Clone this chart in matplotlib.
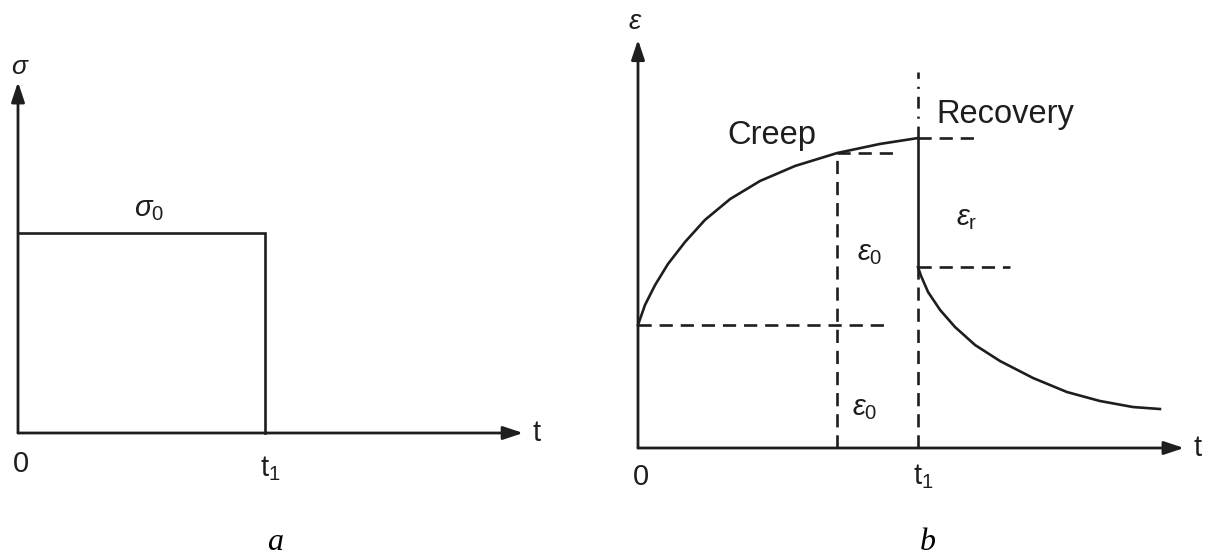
import numpy as np
import matplotlib; matplotlib.use('agg')
import matplotlib.pyplot as plt

plt.rcParams['font.family'] = ['Liberation Sans', 'DejaVu Sans']
plt.rcParams['mathtext.fontset'] = 'custom'
plt.rcParams['mathtext.rm'] = 'Liberation Sans'
plt.rcParams['mathtext.it'] = 'Liberation Sans:italic'

# (a) stress history: constant stress sigma0 applied from 0 to t1
t1 = 1.0
sigma0 = 1.0
t_step = [0.0, t1, t1]
sigma_step = [sigma0, sigma0, 0.0]

# (b) strain response, time in units of t1, strain in units of eps0
eps0 = 1.0
t_creep = [0.0, 0.025, 0.061, 0.107, 0.168, 0.239, 0.329, 0.436, 0.561, 0.711, 0.864, 1.0]
eps_creep = [1.00, 1.163, 1.325, 1.496, 1.675, 1.854, 2.024, 2.171, 2.293, 2.398, 2.472, 2.52]
t_recov = [1.0, 1.011, 1.036, 1.079, 1.132, 1.204, 1.293, 1.411, 1.532, 1.650, 1.768, 1.864]
eps_recov = [1.47, 1.398, 1.268, 1.122, 0.984, 0.837, 0.707, 0.569, 0.455, 0.382, 0.333, 0.317]
t_mark = 0.711          # time of the dashed marker inside the creep region
eps_mark = 2.40

ink = '#1e1e1e'
lw_axis = 2.0
lw_curve = 1.9
dash = (5.0, 3.0)
fs = 21

W, H = 1209, 557
fig = plt.figure(figsize=(W / 100, H / 100), dpi=100)


def panel(px0, px1, ox, oy, sx, sy):
    """axes spanning pixels px0..px1 with data origin at (ox, oy) px"""
    ax = fig.add_axes([px0 / W, 0, (px1 - px0) / W, 1])
    ax.set_xlim((px0 - ox) / sx, (px1 - ox) / sx)
    ax.set_ylim((oy - H) / sy, oy / sy)
    ax.axis('off')
    return ax


def arrow(ax, xy_from, xy_to):
    ax.annotate('', xy=xy_to, xytext=xy_from,
                arrowprops=dict(arrowstyle='-|>,head_length=0.6,head_width=0.2',
                                mutation_scale=20, lw=lw_axis, color=ink,
                                shrinkA=0, shrinkB=0))


# ---- panel a ----
axa = panel(0, 600, 18, 433, 247, 200)
arrow(axa, (0, 0), (0, 1.755))
arrow(axa, (0, 0), (2.045, 0))
axa.plot(t_step, sigma_step, color=ink, lw=lw_curve, solid_joinstyle='miter')
axa.text(0.01, 1.83, r'$\sigma$', fontsize=19, ha='center', va='center', color=ink)
axa.text(0.53, 1.12, r'$\sigma_0$', fontsize=fs, ha='center', va='center', color=ink)
axa.text(0.012, -0.155, '0', fontsize=fs, ha='center', va='center', color=ink)
axa.text(t1 + 0.02, -0.18, r'$\mathrm{t}_1$', fontsize=fs, ha='center', va='center', color=ink)
axa.text(2.10, 0.0, 't', fontsize=fs, ha='center', va='center', color=ink)
axa.text(1.04, -0.55, 'a', fontsize=23, ha='center', va='center', color='black',
         family='Liberation Serif', style='italic')

# ---- panel b ----
axb = panel(600, 1209, 638, 448, 280, 123)
arrow(axb, (0, 0), (0, 3.32))
arrow(axb, (0, 0), (1.95, 0))

axb.plot(t_creep, eps_creep, color=ink, lw=lw_curve, solid_joinstyle='round')
axb.plot(t_recov, eps_recov, color=ink, lw=lw_curve, solid_joinstyle='round')
axb.plot([t1, t1], [eps_recov[0], eps_creep[-1]], color=ink, lw=lw_curve)

# guide lines
dkw = dict(color=ink, lw=lw_curve, dashes=dash)
axb.plot([0, 0.889], [eps0, eps0], **dkw)
axb.plot([t_mark, t_mark], [0, eps_mark], **dkw)
axb.plot([t_mark, 0.911], [eps_mark, eps_mark], **dkw)
axb.plot([t1, 1.211], [eps_creep[-1], eps_creep[-1]], **dkw)
axb.plot([t1, 1.329], [eps_recov[0], eps_recov[0]], **dkw)
axb.plot([t1, t1], [0, eps_recov[0]], **dkw)
axb.plot([t1, t1], [eps_creep[-1], 3.06], color=ink, lw=lw_curve, dashes=(4.5, 3.0, 0.8, 3.0))

axb.text(-0.01, 3.46, r'$\varepsilon$', fontsize=20, ha='center', va='center', color=ink)
axb.text(0.479, 2.54, 'Creep', fontsize=23.5, ha='center', va='center', color=ink)
axb.text(1.311, 2.71, 'Recovery', fontsize=23.5, ha='center', va='center', color=ink)
axb.text(0.829, 1.585, r'$\varepsilon_0$', fontsize=fs, ha='center', va='center', color=ink)
axb.text(0.811, 0.325, r'$\varepsilon_0$', fontsize=fs, ha='center', va='center', color=ink)
axb.text(1.175, 1.87, r'$\varepsilon_\mathrm{r}$', fontsize=fs, ha='center', va='center', color=ink)
axb.text(0.011, -0.236, '0', fontsize=fs, ha='center', va='center', color=ink)
axb.text(t1 + 0.018, -0.236, r'$\mathrm{t}_1$', fontsize=fs, ha='center', va='center', color=ink)
axb.text(2.0, 0.0, 't', fontsize=fs, ha='center', va='center', color=ink)
axb.text(1.036, -0.77, 'b', fontsize=23, ha='center', va='center', color='black',
         family='Liberation Serif', style='italic')

fig.savefig('out.png', dpi=100)
